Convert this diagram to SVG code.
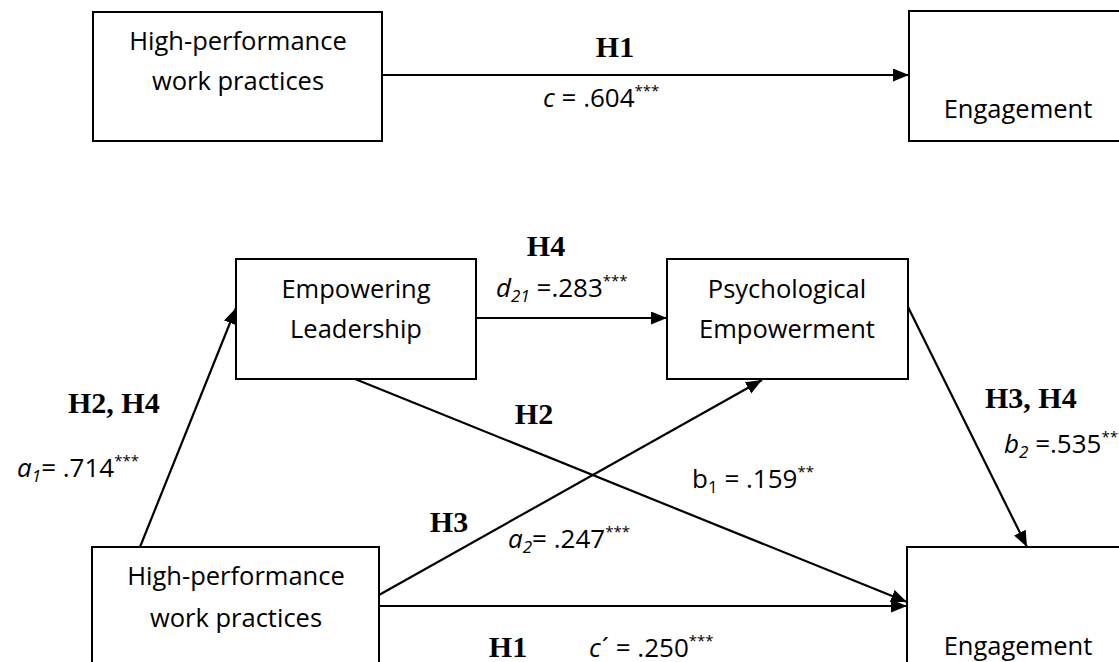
<svg xmlns="http://www.w3.org/2000/svg" width="1119" height="662" viewBox="0 0 1119 662">
<style>
.box{fill:#fff;stroke:#000;stroke-width:2}
.nt{font-family:"Open Sans","Liberation Sans",sans-serif;font-size:25.5px;fill:#000;text-anchor:middle}
.lb{font-family:"Open Sans","Liberation Sans",sans-serif;font-size:26px;fill:#000}
.h{font-family:"Liberation Serif","Times New Roman",serif;font-size:30px;font-weight:bold;fill:#000}
.it{font-style:italic}
.sup{font-size:15px}
.sub{font-size:17px}
.con{stroke:#000;stroke-width:2.2;fill:none;marker-end:url(#ah)}
</style>
<defs>
<marker id="ah" markerUnits="userSpaceOnUse" markerWidth="17" markerHeight="14" refX="16" refY="6.5" orient="auto">
<path d="M0,0 L16,6.5 L0,13 z" fill="#000"/>
</marker>
</defs>
<rect width="1119" height="662" fill="#fff"/>
<g id="connectors">
<line class="con" x1="382" y1="75" x2="909" y2="75"/>
<line class="con" x1="476" y1="318" x2="667" y2="318"/>
<line class="con" x1="140" y1="547" x2="236" y2="308"/>
<line class="con" x1="355" y1="379" x2="907" y2="602"/>
<line class="con" x1="379" y1="595" x2="762" y2="380"/>
<line class="con" x1="379" y1="606" x2="907" y2="606"/>
<line class="con" x1="908" y1="307" x2="1027" y2="547"/>
</g>
<g id="top-hpwp">
<rect class="box" x="93" y="12" width="289" height="129"/>
<text class="nt" x="238" y="50">High-performance</text>
<text class="nt" x="238" y="90">work practices</text>
</g>
<g id="top-engagement">
<rect class="box" x="909" y="11" width="240" height="130"/>
<text class="nt" x="1018" y="118">Engagement</text>
</g>
<g id="empowering-leadership">
<rect class="box" x="236" y="259" width="240" height="120"/>
<text class="nt" x="356" y="298">Empowering</text>
<text class="nt" x="356" y="338">Leadership</text>
</g>
<g id="psychological-empowerment">
<rect class="box" x="667" y="259" width="241" height="120"/>
<text class="nt" x="787" y="298">Psychological</text>
<text class="nt" x="787" y="338">Empowerment</text>
</g>
<g id="hpwp">
<rect class="box" x="92" y="547" width="287" height="140"/>
<text class="nt" x="236" y="585">High-performance</text>
<text class="nt" x="236" y="627">work practices</text>
</g>
<g id="engagement">
<rect class="box" x="907" y="547" width="240" height="140"/>
<text class="nt" x="1018" y="655">Engagement</text>
</g>
<g id="labels">
<text class="h" x="615" y="57" text-anchor="middle">H1</text>
<text class="lb" x="543" y="107"><tspan class="it">c</tspan> = .604<tspan class="sup" dy="-11">***</tspan></text>
<text class="h" x="546" y="256" text-anchor="middle">H4</text>
<text class="lb" x="496" y="297"><tspan class="it">d</tspan><tspan class="sub it" dy="5">21</tspan><tspan dy="-5"> =.283</tspan><tspan class="sup" dy="-11">***</tspan></text>
<text class="h" x="68" y="413">H2, H4</text>
<text class="lb" x="139" y="477" text-anchor="end"><tspan class="it">a</tspan><tspan class="sub it" dy="5">1</tspan><tspan dy="-5">= .714</tspan><tspan class="sup" dy="-11">***</tspan></text>
<text class="h" x="534" y="424" text-anchor="middle">H2</text>
<text class="h" x="449" y="532" text-anchor="middle">H3</text>
<text class="lb" x="508" y="548"><tspan class="it">a</tspan><tspan class="sub it" dy="5">2</tspan><tspan dy="-5">= .247</tspan><tspan class="sup" dy="-11">***</tspan></text>
<text class="lb" x="692" y="488">b<tspan class="sub" dy="5">1</tspan><tspan dy="-5"> = .159</tspan><tspan class="sup" dy="-11">**</tspan></text>
<text class="h" x="985" y="408">H3, H4</text>
<text class="lb" x="1004" y="453"><tspan class="it">b</tspan><tspan class="sub it" dy="5">2</tspan><tspan dy="-5"> =.535</tspan><tspan class="sup" dy="-11">***</tspan></text>
<text class="h" x="508" y="657" text-anchor="middle">H1</text>
<text class="lb" x="589" y="657"><tspan class="it">c</tspan><tspan dx="1">´</tspan> = .250<tspan class="sup" dy="-11">***</tspan></text>
</g>
</svg>
